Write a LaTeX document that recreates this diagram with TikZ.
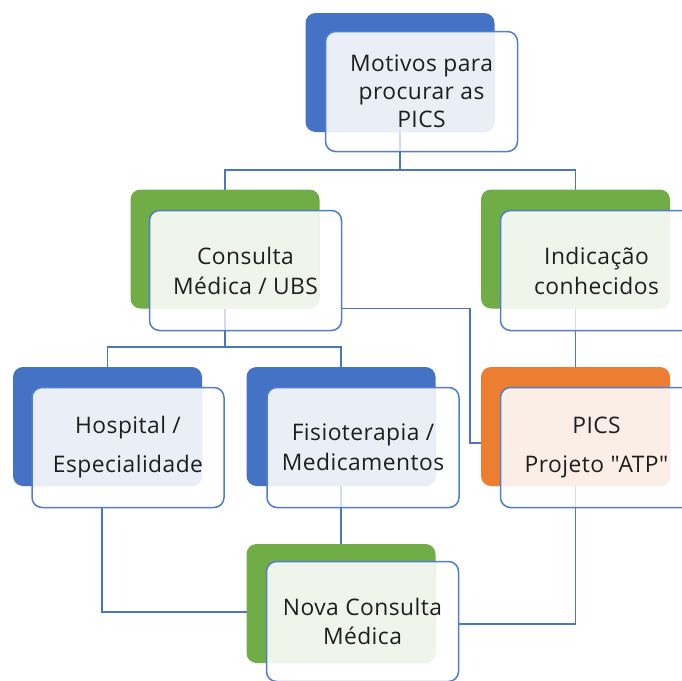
\documentclass[tikz,border=0pt]{standalone}
\usepackage{fontspec}
\newfontfamily\ofont[LetterSpace=2]{Open Sans}
\usetikzlibrary{calc}
\pgfdeclarelayer{lconn}\pgfdeclarelayer{ldark}\pgfdeclarelayer{lwhite}\pgfdeclarelayer{ltint}
\pgfsetlayers{lconn,ldark,lwhite,ltint,main}
\definecolor{cblue}{RGB}{68,114,196}
\definecolor{cgreen}{RGB}{112,173,71}
\definecolor{corange}{RGB}{237,125,49}
\definecolor{tblue}{RGB}{233,238,247}
\definecolor{tgreen}{RGB}{239,245,235}
\definecolor{torange}{RGB}{251,238,231}
\definecolor{cborder}{RGB}{80,125,208}
\definecolor{cconn}{RGB}{72,117,200}
\definecolor{ctext}{RGB}{30,30,30}
\tikzset{
  dk/.style={rounded corners=10pt, inner sep=0pt, outer sep=0pt, minimum width=189, minimum height=119},
  fr/.style={draw=cborder, line width=1.5pt, rounded corners=10pt, inner sep=0pt, outer sep=0pt,
    minimum width=192, minimum height=120, align=center, text=ctext},
  conn/.style={draw=cconn, line width=1.5pt},
  fs/.style={font=\ofont\fontsize{22.8}{#1}\selectfont}
}
\newcommand\tintbox[3]{%
  \begin{pgfonlayer}{lwhite}
    \fill[white, opacity=0.75, rounded corners=10pt] (#2.south west) rectangle (#2.north east);
  \end{pgfonlayer}
  \begin{pgfonlayer}{ltint}
    \begin{scope}
      \clip[rounded corners=10pt] (#1.south west) rectangle (#1.north east);
      \fill[#3, rounded corners=10pt] (#2.south west) rectangle (#2.north east);
    \end{scope}
  \end{pgfonlayer}}
\begin{document}
\begin{tikzpicture}[x=1pt,y=-1pt]
\useasboundingbox (0,0) rectangle (682,680);
% dark boxes
\begin{pgfonlayer}{ldark}
\node[dk, fill=cblue]   (d1) at (400,72.5) {};
\node[dk, fill=cgreen]  (d2) at (225,249) {};
\node[dk, fill=cgreen]  (d3) at (575.5,249) {};
\node[dk, fill=cblue]   (d4) at (107.5,426.5) {};
\node[dk, fill=cblue]   (d5) at (341,426.5) {};
\node[dk, fill=corange] (d6) at (575.5,426.5) {};
\node[dk, fill=cgreen]  (d7) at (341,603.5) {};
\end{pgfonlayer}
% front boxes with text
\node[fr, fs=28] (f1) at (421.5,91.5) {Motivos para\\procurar as\\PICS};
\node[fr, fs=30] (f2) at (245.5,270.5) {Consulta\\Médica / UBS};
\node[fr, fs=30] (f3) at (596.5,270.5) {Indicação\\conhecidos};
\node[fr, fs=39] (f4) at (128,447.5) {Hospital /\\Especialidade};
\node[fr, fs=30] (f5) at (363,447.5) {Fisioterapia /\\Medicamentos};
\node[fr, fs=39] (f6) at (596.5,447.5) {PICS\\Projeto "ATP"};
\node[fr, fs=29] (f7) at (362.5,621.5) {Nova Consulta\\Médica};
\tintbox{d1}{f1}{tblue}
\tintbox{d2}{f2}{tgreen}
\tintbox{d3}{f3}{tgreen}
\tintbox{d4}{f4}{tblue}
\tintbox{d5}{f5}{tblue}
\tintbox{d6}{f6}{torange}
\tintbox{d7}{f7}{tgreen}
% connectors
\begin{pgfonlayer}{lconn}
\coordinate (j1) at (400,170);
\coordinate (j2) at (225,347);
\coordinate (j3) at (470,443);
\coordinate (j4) at (102,612);
\coordinate (j5) at (575.5,624);
\draw[conn] (d1.south) -- (j1) -| (d2.north);
\draw[conn] (j1) -| (d3.north);
\draw[conn] (d2.south) -- (j2) -| (d4.north);
\draw[conn] (j2) -| (d5.north);
\draw[conn] (d2.south -| f2.east) -| (j3) -- (j3 -| d6.west);
\draw[conn] (d3.south) -- (d6.north);
\draw[conn] (d5.south) -- (d7.north);
\draw[conn] (j4 |- f4.south) -- (j4) -- (j4 -| d7.west);
\draw[conn] (d6.south) -- (j5) -- (j5 -| f7.east);
\end{pgfonlayer}
\end{tikzpicture}
\end{document}
